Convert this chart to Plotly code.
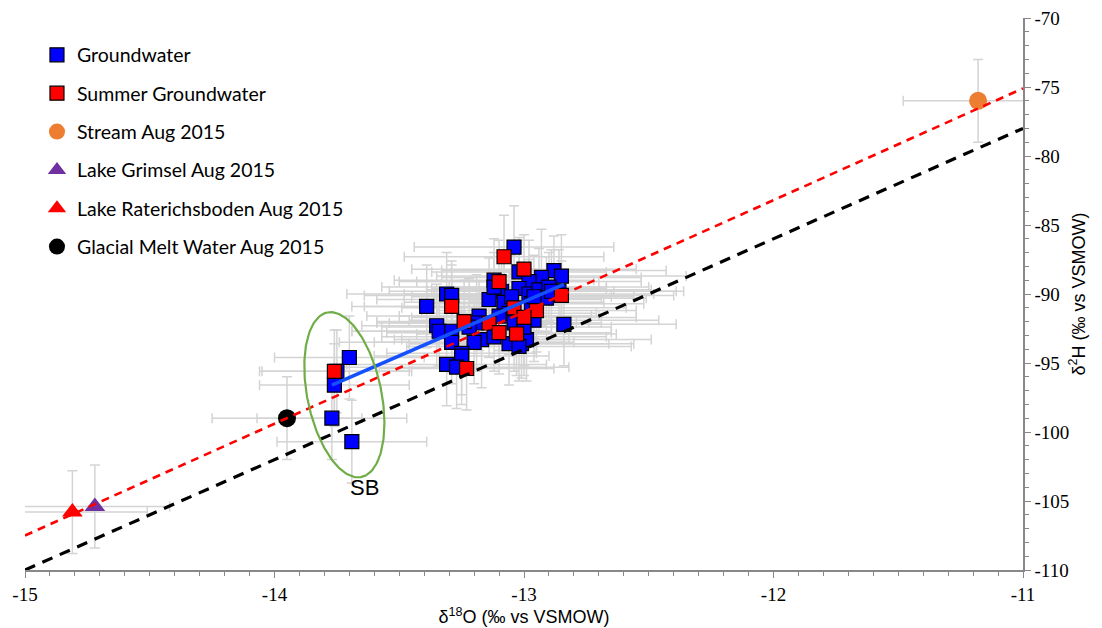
import numpy as np
import plotly.graph_objects as go

# ---------------- data ----------------
gw_x = [-13.70, -13.76, -13.77, -13.69, -13.75,
        -13.04, -12.88, -12.85, -12.93, -13.02, -12.98, -13.12, -13.02, -13.09,
        -13.31, -13.29, -13.39, -13.14, -13.08, -12.98, -12.94, -12.90, -12.86,
        -13.06, -13.18, -13.19, -13.35, -13.34, -13.29, -13.29, -13.22, -13.06,
        -13.01, -12.99, -13.17, -13.20, -13.12, -13.25, -13.25, -13.31, -13.27,
        -12.84, -13.10, -13.04, -12.96, -12.91, -12.97, -13.00, -13.05, -13.12,
        -12.89, -12.96, -13.02]
gw_y = [-94.6, -96.6, -99.0, -100.7, -95.6,
        -86.6, -88.3, -88.7, -88.8, -88.4, -89.1, -89.0, -89.6, -89.8,
        -90.0, -90.1, -90.9, -90.4, -90.6, -90.0, -89.7, -89.5, -89.8,
        -91.4, -91.6, -92.1, -92.3, -92.7, -92.7, -93.5, -92.4, -93.6,
        -93.6, -93.3, -93.3, -93.5, -93.1, -94.3, -94.5, -95.1, -95.3,
        -92.2, -91.6, -92.1, -91.9, -90.3, -90.7, -92.4, -90.2, -89.5,
        -89.8, -90.2, -93.8]
gw_ex = [0.30, 0.30, 0.30, 0.30, 0.30,
         0.40, 0.45, 0.50, 0.40, 0.35, 0.45, 0.40, 0.35, 0.45,
         0.40, 0.35, 0.30, 0.45, 0.40, 0.50, 0.45, 0.40, 0.50,
         0.35, 0.45, 0.40, 0.30, 0.35, 0.40, 0.45, 0.35, 0.40,
         0.45, 0.50, 0.35, 0.40, 0.45, 0.30, 0.35, 0.40, 0.45,
         0.45, 0.40, 0.35, 0.50, 0.40, 0.45, 0.35, 0.40, 0.45,
         0.50, 0.40, 0.45]
gw_ey = [3.0, 3.0, 3.0, 3.0, 3.0,
         3.0, 2.5, 3.0, 3.5, 2.5, 3.0, 3.0, 3.5, 2.5,
         3.0, 2.5, 3.0, 3.0, 3.5, 2.5, 3.0, 2.5, 3.0,
         3.0, 2.5, 3.5, 3.0, 2.5, 3.0, 3.0, 3.5, 3.0,
         2.5, 3.0, 3.5, 3.0, 2.5, 3.0, 3.5, 3.0, 3.0,
         3.0, 2.5, 3.5, 3.0, 3.0, 2.5, 3.5, 3.0, 2.5,
         3.0, 3.0, 2.5]

sgw_x = [-13.76, -13.08, -13.00, -13.10, -13.29, -13.04, -12.95, -13.00,
         -13.24, -13.14, -13.10, -13.03, -13.23, -12.85]
sgw_y = [-95.6, -87.3, -88.2, -89.1, -90.9, -91.0, -91.2, -91.7,
         -92.0, -92.1, -92.8, -92.9, -95.4, -90.1]
sgw_ex = [0.30, 0.40, 0.45, 0.40, 0.35, 0.45, 0.40, 0.45,
          0.35, 0.40, 0.45, 0.40, 0.35, 0.45]
sgw_ey = [3.0, 3.0, 2.5, 3.0, 3.0, 2.5, 3.0, 3.5,
          3.0, 2.5, 3.0, 3.0, 3.0, 2.5]

stream_x, stream_y, stream_ex, stream_ey = [-11.18], [-76.0], [0.30], [3.0]
grimsel_x, grimsel_y, grimsel_ex, grimsel_ey = [-14.72], [-105.4], [0.30], [3.0]
rater_x, rater_y, rater_ex, rater_ey = [-14.81], [-105.8], [0.30], [3.0]
glacial_x, glacial_y, glacial_ex, glacial_ey = [-13.95], [-99.0], [0.30], [3.0]

# meteoric water lines:  d2H = slope * d18O + intercept
gmwl_slope, gmwl_intercept = 8.0, 10.0
lmwl_slope, lmwl_intercept = 8.1, 14.0
line_x = [-15.0, -11.0]

# groundwater regression line end points
gwfit_x = [-13.77, -12.84]
gwfit_y = [-96.6, -89.3]

# SB ellipse (centre in data units, semi-axes in pixels, tilt in degrees)
sb_center = (-13.72, -97.3)
sb_semi_axes_px = (84, 37)
sb_tilt_deg = 11.7
sb_label = "SB"

x_range = [-15, -11]
y_range = [-110, -70]
x_ticks = [-15, -14, -13, -12, -11]
y_ticks = [-110, -105, -100, -95, -90, -85, -80, -75, -70]

# ---------------- figure ----------------
W, H = 1102, 628
ML, MR, MT, MB = 25, 79, 18, 58
px_per_x = (W - ML - MR) / (x_range[1] - x_range[0])
px_per_y = (H - MT - MB) / (y_range[1] - y_range[0])

ERR_COL = "#d4d4d4"
SERIF = "Liberation Serif"

def err(vals, w=5):
    return dict(type="data", array=vals, visible=True, color=ERR_COL, thickness=1.5, width=w)

fig = go.Figure()

# error bars first (under all markers)
for xs, ys, exs, eys in [(gw_x, gw_y, gw_ex, gw_ey), (sgw_x, sgw_y, sgw_ex, sgw_ey),
                         (stream_x, stream_y, stream_ex, stream_ey),
                         (grimsel_x, grimsel_y, grimsel_ex, grimsel_ey),
                         (rater_x, rater_y, rater_ex, rater_ey),
                         (glacial_x, glacial_y, glacial_ex, glacial_ey)]:
    fig.add_trace(go.Scatter(x=xs, y=ys, mode="markers",
                             marker=dict(size=1, color="rgba(0,0,0,0)"),
                             error_x=err(exs), error_y=err(eys),
                             showlegend=False, hoverinfo="skip"))

fig.add_trace(go.Scatter(x=gw_x, y=gw_y, mode="markers", name="Groundwater",
                         marker=dict(symbol="square", size=14, color="#0000ff",
                                     line=dict(color="black", width=1.2)),
                         legendgroup="a"))
fig.add_trace(go.Scatter(x=sgw_x, y=sgw_y, mode="markers", name="Summer Groundwater",
                         marker=dict(symbol="square", size=14, color="#ff0000",
                                     line=dict(color="black", width=1.2)),
                         legendgroup="b"))
fig.add_trace(go.Scatter(x=stream_x, y=stream_y, mode="markers", name="Stream Aug 2015",
                         marker=dict(symbol="circle", size=18, color="#ed7d31"),
                         legendgroup="c"))
fig.add_trace(go.Scatter(x=grimsel_x, y=grimsel_y, mode="markers", name="Lake Grimsel Aug 2015",
                         marker=dict(symbol="triangle-up", size=18, color="#7030a0"),
                         legendgroup="d"))
fig.add_trace(go.Scatter(x=rater_x, y=rater_y, mode="markers", name="Lake Raterichsboden Aug 2015",
                         marker=dict(symbol="triangle-up", size=18, color="#ff0000"),
                         legendgroup="e"))
fig.add_trace(go.Scatter(x=glacial_x, y=glacial_y, mode="markers", name="Glacial Melt Water Aug 2015",
                         marker=dict(symbol="circle", size=18, color="black"),
                         legendgroup="f"))

# lines on top
lx = np.array(line_x)
fig.add_trace(go.Scatter(x=lx, y=gmwl_slope * lx + gmwl_intercept, mode="lines",
                         line=dict(color="black", width=3.2, dash="11px,8px"),
                         showlegend=False, hoverinfo="skip"))
fig.add_trace(go.Scatter(x=lx, y=lmwl_slope * lx + lmwl_intercept, mode="lines",
                         line=dict(color="#ff0000", width=2.6, dash="8px,6px"),
                         showlegend=False, hoverinfo="skip"))
fig.add_trace(go.Scatter(x=gwfit_x, y=gwfit_y, mode="lines",
                         line=dict(color="#1550ff", width=3.5),
                         showlegend=False, hoverinfo="skip"))

# ellipse
t = np.linspace(0, 2 * np.pi, 200)
a, b = sb_semi_axes_px
th = np.radians(sb_tilt_deg)
u, v = a * np.cos(t), b * np.sin(t)
dpx = u * (-np.sin(th)) + v * np.cos(th)
dpy = u * (-np.cos(th)) + v * (-np.sin(th))
ex = sb_center[0] + dpx / px_per_x
ey = sb_center[1] - dpy / px_per_y
fig.add_trace(go.Scatter(x=ex, y=ey, mode="lines", line=dict(color="#70ad47", width=2.2),
                         showlegend=False, hoverinfo="skip"))

fig.add_annotation(x=sb_center[0] + 20 / px_per_x, y=sb_center[1] - 93 / px_per_y,
                   text=sb_label, showarrow=False,
                   font=dict(family="Liberation Sans", size=22, color="black"))

title_font = dict(family="Liberation Sans", size=18, color="black")

fig.update_layout(
    width=W, height=H,
    font=dict(family=SERIF, size=19, color="black"),
    margin=dict(l=ML, r=MR, t=MT, b=MB, autoexpand=False),
    plot_bgcolor="white", paper_bgcolor="white",
    legend=dict(x=0.012, y=0.968, xanchor="left", yanchor="top",
                font=dict(family="Lato", size=19.5, color="black"),
                bgcolor="rgba(0,0,0,0)", tracegroupgap=10, itemwidth=30),
    xaxis=dict(range=x_range, tickvals=x_ticks, ticktext=[str(v) for v in x_ticks],
               showgrid=False, zeroline=False, automargin=False,
               showline=True, linecolor="#888888", linewidth=1.5,
               ticks="outside", ticklen=6, tickcolor="#888888", tickwidth=1.2,
               minor=dict(dtick=0.1, tick0=-15, ticks="outside", ticklen=4, tickcolor="#888888", showgrid=False),
               title=dict(text="δ<sup>18</sup>O (‰ vs VSMOW)", font=title_font, standoff=4)),
    yaxis=dict(range=y_range, tickvals=y_ticks, ticktext=[str(v) for v in y_ticks],
               side="right", showgrid=False, zeroline=False, automargin=False,
               showline=True, linecolor="#888888", linewidth=1.5,
               ticks="outside", ticklen=6, tickcolor="#888888", tickwidth=1.2,
               minor=dict(dtick=1, tick0=-110, ticks="outside", ticklen=4, tickcolor="#888888", showgrid=False),
               title=dict(text="δ<sup>2</sup>H (‰ vs VSMOW)", font=title_font, standoff=4)),
)
fig.update_xaxes(tickfont=dict(family=SERIF, size=19, color="black"))
fig.update_yaxes(tickfont=dict(family=SERIF, size=19, color="black"))

fig.write_html("out.html")
